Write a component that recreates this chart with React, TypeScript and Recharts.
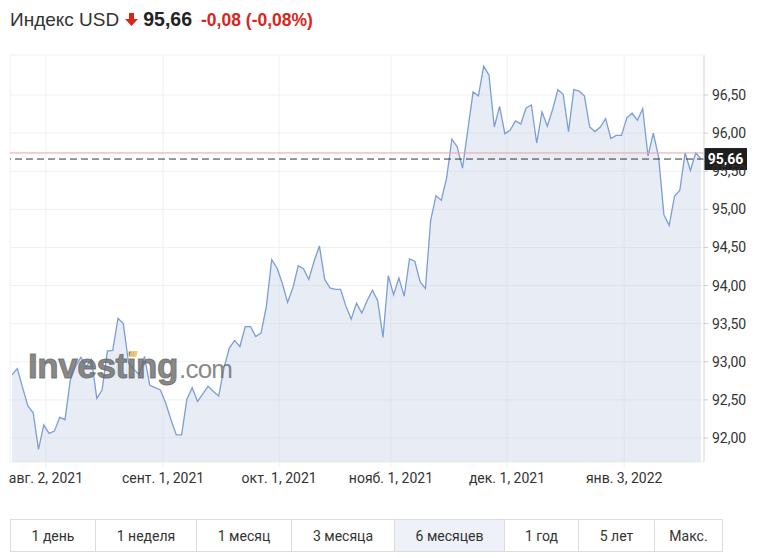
import { AreaChart, Area, XAxis, YAxis, CartesianGrid, ReferenceLine } from "recharts";

// daily closes of the US dollar index, ~22 Jul 2021 .. 21 Jan 2022
const closes = [
    92.83, 92.91, 92.66, 92.42, 92.33, 91.85, 92.17, 92.06, 92.09, 92.27,
    92.24, 92.76, 92.94, 93.06, 92.94, 93.03, 92.52, 92.63, 93.14, 93.15,
    93.57, 93.5, 92.98, 92.9, 92.83, 93.07, 92.69, 92.66, 92.63, 92.46,
    92.24, 92.04, 92.04, 92.51, 92.66, 92.48, 92.58, 92.68, 92.61, 92.55,
    92.92, 93.18, 93.28, 93.2, 93.46, 93.46, 93.33, 93.38, 93.73, 94.34,
    94.23, 94.03, 93.78, 93.97, 94.26, 94.22, 94.08, 94.32, 94.52, 94.08,
    93.97, 93.95, 93.95, 93.73, 93.56, 93.77, 93.64, 93.8, 93.94, 93.8,
    93.32, 94.13, 93.88, 94.1, 93.86, 94.35, 94.32, 94.05, 93.96, 94.86,
    95.18, 95.12, 95.41, 95.92, 95.82, 95.54, 96.04, 96.54, 96.49, 96.88,
    96.76, 96.08, 96.35, 95.99, 96.04, 96.16, 96.12, 96.33, 96.37, 95.87,
    96.28, 96.09, 96.31, 96.57, 96.51, 96.02, 96.57, 96.55, 96.49, 96.08,
    96.02, 96.08, 96.19, 95.93, 95.97, 95.97, 96.2, 96.26, 96.17, 96.32,
    95.7, 96.0, 95.69, 94.93, 94.79, 95.17, 95.25, 95.74, 95.51, 95.74,
    95.66,
];

// trading-day index where each month label sits
const tickPos = [6.4, 28.5, 50.4, 71.5, 93.4, 115.5];
const tickLabels = ["авг. 2, 2021", "сент. 1, 2021", "окт. 1, 2021", "нояб. 1, 2021", "дек. 1, 2021", "янв. 3, 2022"];
const yTicks = [92, 92.5, 93, 93.5, 94, 94.5, 95, 95.5, 96, 96.5];

const lastPrice = 95.66;
const prevClose = 95.74;
const change = -0.08;
const changePct = -0.08;

const ranges = ["1 день", "1 неделя", "1 месяц", "3 месяца", "6 месяцев", "1 год", "5 лет", "Макс."];
const rangeWidths = [85, 101, 95, 103, 110, 74, 76, 68];
const activeRange = "6 месяцев";

const fmt = (v: number) => v.toFixed(2).replace(".", ",");
const data = closes.map((c, i) => ({ i, c }));

function PriceTag({ viewBox }: any) {
    if (!viewBox) return null;
    const x = viewBox.x + viewBox.width;
    const y = viewBox.y;
    return (
        <g>
            <rect x={x} y={y - 11} width={43} height={22} fill="#1e1e1e" />
            <text x={x + 21.5} y={y + 5} textAnchor="middle" fill="#fff" fontSize={14} fontWeight="bold" fontFamily="Roboto, Arial, sans-serif">
                {fmt(lastPrice)}
            </text>
        </g>
    );
}

export default function App() {
    const red = "#d9261c";
    return (
        <div style={{ position: "relative", width: 780, height: 558, background: "#fff", fontFamily: "Roboto, Arial, sans-serif", color: "#333" }}>
            <style>{`body{margin:0}`}</style>

            <div style={{ position: "absolute", left: 10, top: 8, display: "flex", alignItems: "baseline", whiteSpace: "nowrap", fontFamily: "'Liberation Sans', Arial, sans-serif" }}>
                <span style={{ fontSize: 19, color: "#333" }}>Индекс USD</span>
                <svg width={13} height={14} viewBox="0 0 13 14" style={{ margin: "0 5px 0 6px", alignSelf: "center" }}>
                    <rect x={4} y={0} width={5} height={7} fill={red} />
                    <polygon points="0,6 13,6 6.5,13" fill={red} />
                </svg>
                <span style={{ fontSize: 19.5, fontWeight: "bold", color: "#222" }}>{fmt(lastPrice)}</span>
                <span style={{ fontSize: 17.5, fontWeight: "bold", color: red, marginLeft: 9 }}>
                    {fmt(change)} ({fmt(changePct)}%)
                </span>
            </div>

            <div style={{ position: "absolute", left: 0, top: 0 }}>
                <AreaChart width={780} height={490} data={data} margin={{ top: 55, right: 0, bottom: 0, left: 10 }}>
                    <CartesianGrid stroke="#f0f0f0" />
                    <XAxis
                        dataKey="i"
                        type="number"
                        domain={[0, 130]}
                        allowDataOverflow
                        padding={{ left: 2, right: 3 }}
                        ticks={tickPos}
                        tickFormatter={(v: number) => tickLabels[tickPos.indexOf(v)] ?? ""}
                        interval={0}
                        height={28}
                        axisLine={false}
                        tickSize={5}
                        tickMargin={6}
                        tickLine={{ stroke: "#eeeeee" }}
                        tick={{ fill: "#333", fontSize: 14 }}
                    />
                    <YAxis
                        orientation="right"
                        type="number"
                        domain={[91.685, 97.025]}
                        allowDataOverflow
                        ticks={yTicks}
                        interval={0}
                        tickFormatter={fmt}
                        width={76}
                        axisLine={{ stroke: "#dddddd" }}
                        tickSize={4}
                        tickMargin={4}
                        tickLine={{ stroke: "#cccccc" }}
                        tick={{ fill: "#333", fontSize: 14, textAnchor: "start" }}
                    />
                    <Area
                        type="linear"
                        dataKey="c"
                        stroke="#7a9fd6"
                        strokeWidth={1.3}
                        fill="#c5d0e6"
                        fillOpacity={0.4}
                        dot={false}
                        activeDot={false}
                        isAnimationActive={false}
                    />
                    <ReferenceLine y={prevClose} stroke="#eaa5a5" strokeWidth={1} />
                    <ReferenceLine y={lastPrice} stroke="#333" strokeDasharray="7 4" strokeWidth={1} label={<PriceTag />} />
                </AreaChart>
            </div>

            {/* watermark, semi-transparent so the line shows through */}
            <div style={{ position: "absolute", left: 28, top: 346, display: "flex", alignItems: "baseline", color: "rgba(105,105,105,0.8)", pointerEvents: "none", whiteSpace: "nowrap", fontFamily: "'Liberation Sans', Arial, sans-serif" }}>
                <span style={{ fontSize: 35, fontWeight: "bold", letterSpacing: -0.4, WebkitTextStroke: "1px rgba(105,105,105,0.8)" }}>Investing</span>
                <span style={{ fontSize: 26, letterSpacing: -0.8, marginLeft: 1 }}>.com</span>
            </div>
            <div style={{ position: "absolute", left: 130, top: 351, width: 7, height: 6, background: "rgba(243,196,110,0.9)", transform: "skewX(-15deg)" }} />

            <div style={{ position: "absolute", left: 10, top: 519, display: "flex", border: "1px solid #dcdcdc", boxSizing: "border-box", height: 33 }}>
                {ranges.map((r, k) => (
                    <div
                        key={r}
                        style={{
                            width: rangeWidths[k] - (k === 0 ? 1 : 0),
                            boxSizing: "border-box",
                            borderLeft: k === 0 ? "none" : "1px solid #dcdcdc",
                            background: r === activeRange ? "#eef2f8" : "#fff",
                            fontSize: 14,
                            color: "#333",
                            display: "flex",
                            alignItems: "center",
                            justifyContent: "center",
                        }}
                    >
                        {r}
                    </div>
                ))}
            </div>
        </div>
    );
}
